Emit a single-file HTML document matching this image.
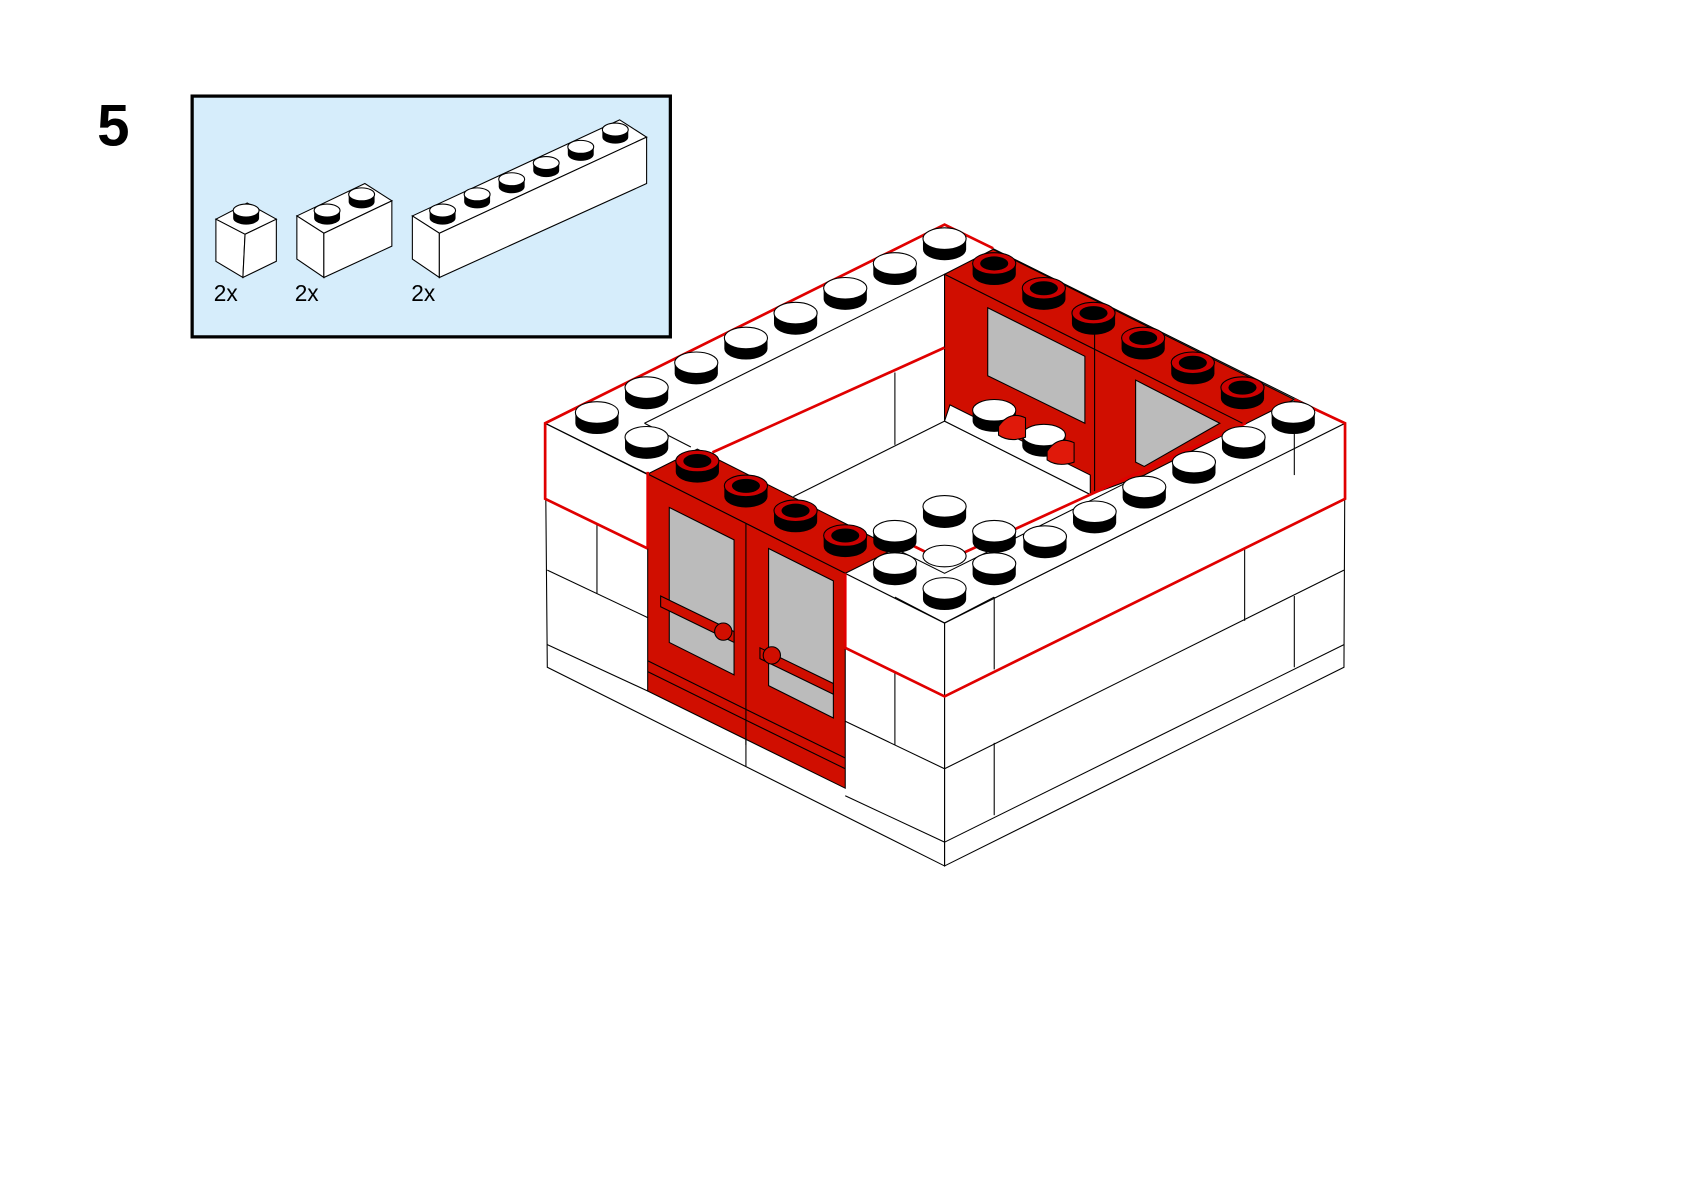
<!DOCTYPE html>
<html><head><meta charset="utf-8"><style>
html,body{margin:0;padding:0;background:#fff;}
svg{display:block;}
</style></head><body>
<svg width="1684" height="1192" viewBox="0 0 1560 1104" preserveAspectRatio="none" xmlns="http://www.w3.org/2000/svg" font-family="Liberation Sans, sans-serif">
<defs>
<g id="ws"><path d="M-20,0 v10 a20,10 0 0 0 40,0 v-10z" fill="#000"/><ellipse cx="0" cy="0" rx="20" ry="10" fill="#fff" stroke="#000" stroke-width="1"/></g>
<g id="bs"><path d="M-20,0 v10 a20,10 0 0 0 40,0 v-10z" fill="#000"/><ellipse cx="0" cy="0" rx="20" ry="10" fill="#c00" stroke="#000" stroke-width="1"/><ellipse cx="0" cy="0" rx="13" ry="6.5" fill="#000"/></g>
<g id="ss"><path d="M-12,0 v7 a12,6 0 0 0 24,0 v-7z" fill="#000"/><ellipse cx="0" cy="0" rx="12" ry="6" fill="#fff" stroke="#000" stroke-width="1"/></g>
</defs>
<text x="90" y="135" font-size="54" font-weight="bold">5</text>
<rect x="178" y="89" width="443" height="223" fill="#d6edfb" stroke="#000" stroke-width="3"/>
<g fill="#fff" stroke="#000" stroke-width="1">
<polygon points="200,203 229,188 256,203 227,217"/><polygon points="200,203 227,217 225,257 200,242"/><polygon points="227,217 256,203 256,242 225,257"/>
<polygon points="275,200 338,170 363,186 300,216"/><polygon points="275,200 300,216 300,257 275,240"/><polygon points="300,216 363,186 363,228 300,257"/>
<polygon points="382,200 574,111 599,127 407,216"/><polygon points="382,200 407,216 407,257 382,240"/><polygon points="407,216 599,127 599,170 407,257"/>
</g>
<use href="#ss" x="228" y="195"/><use href="#ss" x="303" y="195"/><use href="#ss" x="335" y="180"/>
<use href="#ss" x="410" y="195"/><use href="#ss" x="442" y="180"/><use href="#ss" x="474" y="166"/><use href="#ss" x="506" y="151"/><use href="#ss" x="538" y="136"/><use href="#ss" x="570" y="120"/>
<text x="198" y="279" font-size="21">2x</text><text x="273" y="279" font-size="21">2x</text><text x="381" y="279" font-size="21">2x</text>

<g fill="#fff" stroke="#000" stroke-width="1">
<polygon points="505,392 875,577 875,802 507,618"/>
<polygon points="875,577 1246,392 1245,618 875,802"/>
<polygon points="505,392 875,208 1246,392 875,577"/>
</g>
<g fill="none" stroke="#000" stroke-width="1">
<polyline points="597,392 875,254 875,390"/>
<polyline points="735,460 875,390 1010,457"/>
<line x1="829" y1="345" x2="829" y2="412"/>
<line x1="597" y1="392" x2="640" y2="414"/>
<polyline points="783,531 829,508 875,531 1154,392"/>
<line x1="505" y1="392" x2="600" y2="439"/>
<line x1="507" y1="528" x2="600" y2="572"/><line x1="507" y1="597" x2="600" y2="640"/>
<line x1="553" y1="485" x2="553" y2="550"/>
<line x1="783" y1="668" x2="875" y2="712"/><line x1="783" y1="737" x2="875" y2="780"/>
<line x1="829" y1="622" x2="829" y2="690"/>
<line x1="875" y1="577" x2="875" y2="802"/>
<line x1="875" y1="712" x2="1245" y2="528"/><line x1="875" y1="780" x2="1245" y2="597"/>
<line x1="921" y1="553" x2="921" y2="620"/><line x1="921" y1="688" x2="921" y2="755"/>
<line x1="1153" y1="507" x2="1153" y2="575"/><line x1="1199" y1="552" x2="1199" y2="618"/>
<line x1="1199" y1="370" x2="1199" y2="440"/>
<line x1="875" y1="577" x2="921" y2="553"/><line x1="875" y1="577" x2="829" y2="553"/>
<line x1="691" y1="685" x2="691" y2="710"/>
</g>
<polygon points="875,254 920,231 1199,370 1153,393 1060,440 1010,458 875,390" fill="#d00e00" stroke="#000" stroke-width="1"/>
<line x1="875" y1="254" x2="1153" y2="393" stroke="#000"/>
<line x1="1014" y1="301" x2="1014" y2="455" stroke="#000"/>
<polygon points="915,285 1005,330 1005,392 915,348" fill="#bbb" stroke="#000"/>
<polygon points="1052,352 1130,392 1060,432 1052,428" fill="#bbb" stroke="#000"/>
<polygon points="875,390 1010,458 1010,440 880,375" fill="#fff" stroke="#000"/>
<use href="#ws" x="921" y="380"/><use href="#ws" x="967" y="403"/>
<path d="M925,395 q10,-15 25,-8 l0,18 q-15,5 -25,-2z" fill="#e0190a" stroke="#000"/>
<path d="M970,418 q10,-15 25,-8 l0,18 q-15,5 -25,-2z" fill="#e0190a" stroke="#000"/>
<polygon points="600,439 646,416 829,508 783,531" fill="#d00e00" stroke="#000"/>
<polygon points="600,439 783,531 783,730 600,640" fill="#d00e00" stroke="#000"/>
<line x1="691" y1="485" x2="691" y2="690" stroke="#000"/>
<polygon points="620,470 680,500 680,625 620,595" fill="#bbb" stroke="#000"/>
<polygon points="712,508 772,538 772,665 712,635" fill="#bbb" stroke="#000"/>
<polygon points="612,552 680,585 680,595 612,562" fill="#d00e00" stroke="#000"/>
<polygon points="704,600 772,633 772,643 704,610" fill="#d00e00" stroke="#000"/>
<circle cx="670" cy="585" r="8" fill="#d00e00" stroke="#000"/><circle cx="715" cy="607" r="8" fill="#d00e00" stroke="#000"/>
<g stroke="#000" fill="none"><line x1="600" y1="612" x2="691" y2="657"/><line x1="600" y1="622" x2="691" y2="667"/><line x1="691" y1="657" x2="783" y2="702"/><line x1="691" y1="667" x2="783" y2="712"/></g>
<g fill="none" stroke="#e00000" stroke-width="2.5">
<polyline points="600,508 505,462 505,392 875,208 920,230"/>
<polyline points="660,419 875,322"/>
<polyline points="783,531 783,600 875,645 1246,462 1246,392 1199,370"/>
<polyline points="829,497 875,520 1154,392"/>
<polyline points="600,437 600,508"/>
</g>
<use href="#ws" x="553" y="382"/><use href="#ws" x="599" y="359"/><use href="#ws" x="645" y="336"/><use href="#ws" x="691" y="313"/><use href="#ws" x="737" y="290"/><use href="#ws" x="783" y="267"/><use href="#ws" x="829" y="244"/><use href="#ws" x="875" y="221"/>
<use href="#ws" x="599" y="405"/>
<use href="#bs" x="921" y="244"/><use href="#bs" x="967" y="267"/><use href="#bs" x="1013" y="290"/><use href="#bs" x="1059" y="313"/><use href="#bs" x="1105" y="336"/><use href="#bs" x="1151" y="359"/>
<use href="#ws" x="1198" y="382"/><use href="#ws" x="1152" y="405"/><use href="#ws" x="1106" y="428"/><use href="#ws" x="1060" y="451"/><use href="#ws" x="1014" y="474"/><use href="#ws" x="968" y="497"/>
<use href="#ws" x="875" y="469"/><use href="#ws" x="829" y="492"/><use href="#ws" x="921" y="492"/><ellipse cx="875" cy="515" rx="20" ry="10" fill="#fff" stroke="#000"/>
<use href="#ws" x="829" y="522"/><use href="#ws" x="921" y="522"/><use href="#ws" x="875" y="545"/>
<use href="#bs" x="646" y="427"/><use href="#bs" x="691" y="450"/><use href="#bs" x="737" y="473"/><use href="#bs" x="783" y="496"/>
</svg>
</body></html>
